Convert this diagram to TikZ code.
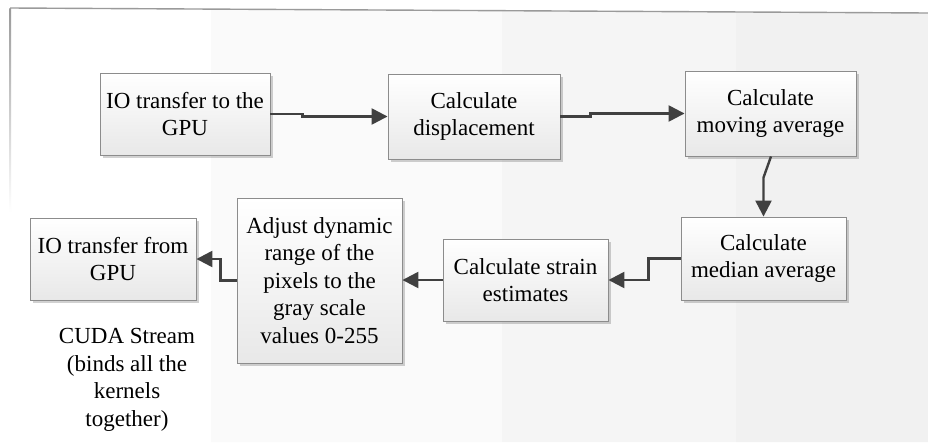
\documentclass[tikz,border=0pt]{standalone}
\usepackage{fontspec}
\setmainfont{Liberation Serif}
\usetikzlibrary{arrows.meta,shadows,calc}
\definecolor{bandA}{HTML}{FAFAFA}
\definecolor{bandB}{HTML}{F5F5F5}
\definecolor{bandC}{HTML}{F1F1F1}
\definecolor{frameline}{HTML}{9A9A9A}
\definecolor{boxedge}{HTML}{8C8C8C}
\definecolor{boxbottom}{HTML}{E8E8E8}
\definecolor{connector}{HTML}{404040}
\tikzset{
  stepbox/.style={draw=boxedge, line width=0.9pt,
    top color=white, bottom color=boxbottom,
    drop shadow={shadow xshift=3pt, shadow yshift=-3pt, fill=black, opacity=0.18},
    align=center, inner sep=2pt,
    font=\fontsize{23}{27.5}\selectfont},
  note/.style={align=center, font=\fontsize{23}{27.5}\selectfont},
  conn/.style={draw=connector, line width=2.4pt,
    -{Triangle[length=16pt,width=16pt]}}
}
\begin{document}
\begin{tikzpicture}[x=1pt,y=-1pt]
\useasboundingbox (0,0) rectangle (928,442);
% background bands under the slanted top edge
\fill[white] (0,0) rectangle (928,442);
\fill[bandA] (211,9.1) -- (502,10.7) -- (502,442) -- (211,442) -- cycle;
\fill[bandB] (502,10.7) -- (736,12.0) -- (736,442) -- (502,442) -- cycle;
\fill[bandC] (736,12.0) -- (928,13.0) -- (928,442) -- (736,442) -- cycle;
% frame edges
\draw[frameline, line width=1.4pt] (10,8) -- (928,13);
\shade[top color=frameline, bottom color=white] (9.4,8) rectangle (11,212);

% processing steps
\node[stepbox, minimum width=170, minimum height=82] (b1) at (185,114)
  {IO transfer to the\\GPU};
\node[stepbox, minimum width=172, minimum height=85] (b2) at (474,116.5)
  {Calculate\\displacement};
\node[stepbox, minimum width=171, minimum height=85] (b3) at (770.5,113.5)
  {Calculate\\moving average};
\node[stepbox, minimum width=165, minimum height=83] (b4) at (763.5,258.5)
  {Calculate\\median average};
\node[stepbox, minimum width=165, minimum height=82] (b5) at (525.5,280)
  {Calculate strain\\estimates};
\node[stepbox, minimum width=165, minimum height=165] (b6) at (319.5,280.5)
  {Adjust dynamic\\range of the\\pixels to the\\gray scale\\values 0-255};
\node[stepbox, minimum width=166, minimum height=82] (b7) at (113,259)
  {IO transfer from\\GPU};

\node[note] (cuda) at (127,380)
  {CUDA Stream\\(binds all the\\kernels\\together)};

% connectors
\draw[conn] (b1.east) -- ++(32,0) |- (b2.west);
\draw[conn] (b2.east) -- ++(30,0) |- (b3.west);
\draw[conn] ($(b3.south)+(0.5,0)$) -- ($(b4.north)+(0,-39)$) -- (b4.north);
\draw[conn] (b4.west) -- ++(-32,0) |- (b5.east);
\draw[conn] (b5.west) -- (b6.east |- b5.west);
\draw[conn] (b6.west) -- ++(-16,0) |- (b7.east);
\end{tikzpicture}
\end{document}
